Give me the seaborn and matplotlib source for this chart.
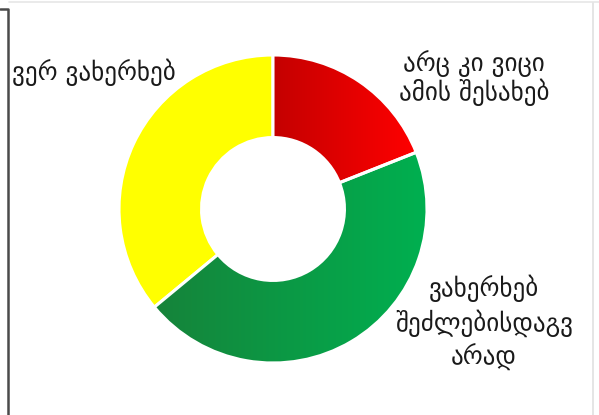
import numpy as np
import matplotlib
matplotlib.use("Agg")
import matplotlib.pyplot as plt
from matplotlib.colors import LinearSegmentedColormap
from matplotlib.lines import Line2D
from matplotlib.patches import Wedge
import seaborn as sns

# Survey answers (share of respondents, %)
labels = ["არც კი ვიცი\nამის შესახებ", "ვახერხებ\nშეძლებისდაგვ\nარად", "ვერ ვახერხებ"]
values = [19, 45, 36]
base_colors = ["#FF0000", "#00B050", "#FFFF00"]
# left -> right shading of each ring segment (None = flat fill)
shades = [("#C40000", "#FF0000"), ("#16833A", "#00B050"), None]

sns.set_theme(style="white")
plt.rcParams["font.family"] = ["DejaVu Sans"]

W, H, DPI = 599, 415, 100
fig = plt.figure(figsize=(W / DPI, H / DPI), dpi=DPI)
fig.patch.set_facecolor("white")
ax = fig.add_axes([0, 0, 1, 1])

ring = 0.536
wedges, _ = ax.pie(
    values,
    colors=base_colors,
    startangle=90,
    counterclock=False,
    radius=1.0,
    wedgeprops=dict(width=ring, edgecolor="white", linewidth=2.2),
)

# pixel geometry of the ring
cx, cy, R = 273.0, 209.0, 154.0

def set_frame():
    ax.set_xlim(-cx / R, (W - cx) / R)
    ax.set_ylim(-(H - cy) / R, cy / R)
    ax.set_aspect("equal", adjustable="box")
    ax.axis("off")

set_frame()

# horizontal gradient fills clipped to the wedges
for w, sh in zip(wedges, shades):
    if sh is None:
        continue
    cmap = LinearSegmentedColormap.from_list("shade", list(sh))
    grad = np.linspace(0, 1, 256).reshape(1, -1)
    bb = w.get_path().get_extents()
    img = ax.imshow(
        grad, cmap=cmap, aspect="auto",
        extent=[bb.x0, bb.x1, bb.y0, bb.y1], zorder=w.get_zorder() + 0.1,
        interpolation="bilinear",
    )
    img.set_clip_path(w)
    # white separator on top of the shading
    ax.add_patch(Wedge(
        w.center, w.r, w.theta1, w.theta2, width=w.width,
        facecolor="none", edgecolor="white", linewidth=2.2,
        zorder=w.get_zorder() + 0.2))

set_frame()

def px(x, y):
    return (x - cx) / R, (cy - y) / R

txt = dict(fontsize=18, color="#1a1a1a")
ax.text(*px(12, 72), labels[2], ha="left", va="center", **txt)
ax.text(*px(474, 78), labels[0], ha="center", va="center",
        multialignment="center", linespacing=1.08, **txt)
ax.text(*px(484, 323), labels[1], ha="center", va="center",
        multialignment="center", linespacing=1.33, **txt)

# frame lines around the chart area
fig.add_artist(Line2D([0, 7.5 / W, 7.5 / W], [1 - 9.5 / H, 1 - 9.5 / H, 0],
                      color="#4a4a4a", linewidth=1.8, transform=fig.transFigure))
fig.add_artist(Line2D([9 / W, 1], [1 - 2.5 / H, 1 - 2.5 / H],
                      color="#e6e6e6", linewidth=1.2, transform=fig.transFigure))
fig.add_artist(Line2D([592.5 / W, 592.5 / W], [0, 1 - 3 / H],
                      color="#e0e0e0", linewidth=1.2, transform=fig.transFigure))

fig.savefig("out.png", dpi=DPI, facecolor="white")
